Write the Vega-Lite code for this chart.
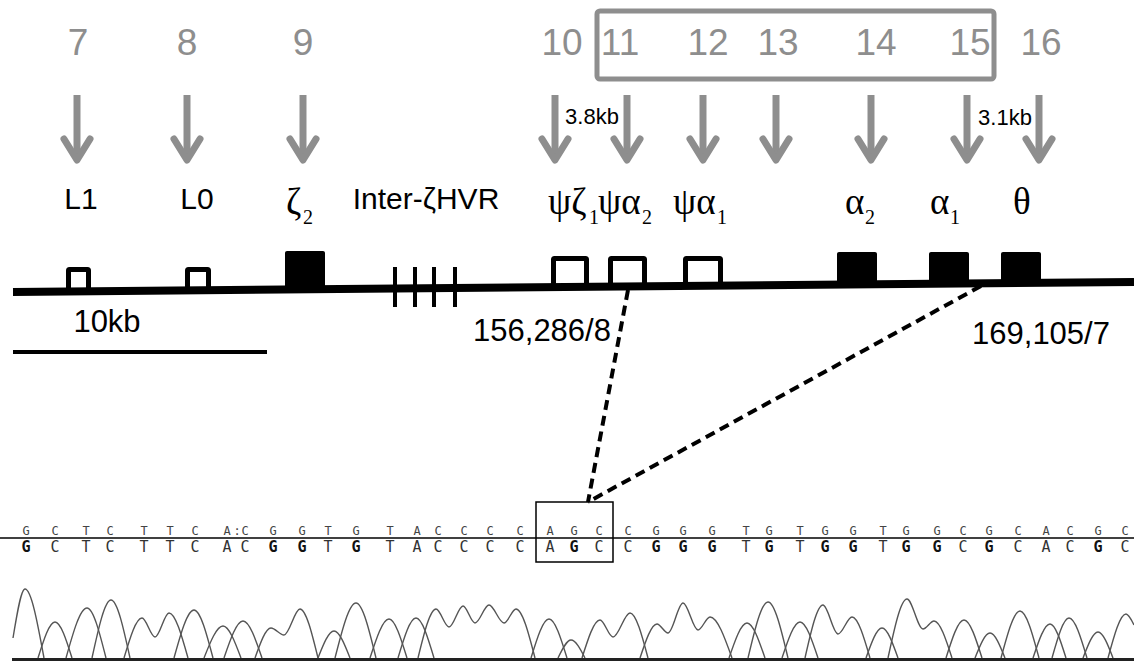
{
  "$schema": "https://vega.github.io/schema/vega-lite/v6.json",
  "width": 1134,
  "height": 661,
  "autosize": {"type": "none"},
  "padding": 0,
  "background": "white",
  "config": {"view": {"stroke": null}},
  "datasets": {
    "topbox": [{"x": 597, "x2": 994, "y": 11, "y2": 79}],
    "numbers": [
      {"x": 78, "y": 44, "t": "7"}, {"x": 187, "y": 44, "t": "8"}, {"x": 303, "y": 44, "t": "9"},
      {"x": 562, "y": 44, "t": "10"}, {"x": 620, "y": 44, "t": "11"}, {"x": 708, "y": 44, "t": "12"},
      {"x": 778, "y": 44, "t": "13"}, {"x": 876, "y": 44, "t": "14"}, {"x": 970, "y": 44, "t": "15"},
      {"x": 1041, "y": 44, "t": "16"}
    ],
    "shafts": [
      {"x": 77, "y": 95, "y2": 156}, {"x": 187, "y": 95, "y2": 156}, {"x": 303, "y": 95, "y2": 156},
      {"x": 555, "y": 95, "y2": 156}, {"x": 627, "y": 95, "y2": 156}, {"x": 703, "y": 95, "y2": 156},
      {"x": 776, "y": 95, "y2": 156}, {"x": 871, "y": 95, "y2": 156}, {"x": 967, "y": 95, "y2": 156},
      {"x": 1039, "y": 95, "y2": 156}
    ],
    "heads": [
      {"a": 7, "x": 64, "y": 139}, {"a": 7, "x": 77, "y": 160}, {"a": 7, "x": 90, "y": 139},
      {"a": 8, "x": 174, "y": 139}, {"a": 8, "x": 187, "y": 160}, {"a": 8, "x": 200, "y": 139},
      {"a": 9, "x": 290, "y": 139}, {"a": 9, "x": 303, "y": 160}, {"a": 9, "x": 316, "y": 139},
      {"a": 10, "x": 542, "y": 139}, {"a": 10, "x": 555, "y": 160}, {"a": 10, "x": 568, "y": 139},
      {"a": 11, "x": 614, "y": 139}, {"a": 11, "x": 627, "y": 160}, {"a": 11, "x": 640, "y": 139},
      {"a": 12, "x": 690, "y": 139}, {"a": 12, "x": 703, "y": 160}, {"a": 12, "x": 716, "y": 139},
      {"a": 13, "x": 763, "y": 139}, {"a": 13, "x": 776, "y": 160}, {"a": 13, "x": 789, "y": 139},
      {"a": 14, "x": 858, "y": 139}, {"a": 14, "x": 871, "y": 160}, {"a": 14, "x": 884, "y": 139},
      {"a": 15, "x": 954, "y": 139}, {"a": 15, "x": 967, "y": 160}, {"a": 15, "x": 980, "y": 139},
      {"a": 16, "x": 1026, "y": 139}, {"a": 16, "x": 1039, "y": 160}, {"a": 16, "x": 1052, "y": 139}
    ],
    "sanslabels": [
      {"x": 81, "y": 209, "t": "L1"}, {"x": 197, "y": 209, "t": "L0"}, {"x": 426, "y": 209, "t": "Inter-ζHVR"}
    ],
    "greek": [
      {"x": 286, "y": 214, "t": "ζ"}, {"x": 548, "y": 214, "t": "ψζ"}, {"x": 598, "y": 214, "t": "ψα"},
      {"x": 673, "y": 214, "t": "ψα"}, {"x": 845, "y": 214, "t": "α"}, {"x": 930, "y": 214, "t": "α"},
      {"x": 1013, "y": 214, "t": "θ"}
    ],
    "subs": [
      {"x": 303, "y": 224, "t": "2"}, {"x": 589, "y": 224, "t": "1"}, {"x": 642, "y": 224, "t": "2"},
      {"x": 717, "y": 224, "t": "1"}, {"x": 865, "y": 224, "t": "2"}, {"x": 950, "y": 224, "t": "1"}
    ],
    "openboxes": [
      {"x": 68.5, "x2": 88.5, "y": 269.5, "y2": 291},
      {"x": 187.5, "x2": 208.5, "y": 269.5, "y2": 290},
      {"x": 553.5, "x2": 586.5, "y": 258.5, "y2": 287},
      {"x": 610.5, "x2": 644.5, "y": 258.5, "y2": 287},
      {"x": 685.5, "x2": 720.5, "y": 258.5, "y2": 286}
    ],
    "filledboxes": [
      {"x": 285, "x2": 325, "y": 251, "y2": 290},
      {"x": 837, "x2": 877, "y": 252, "y2": 285},
      {"x": 929, "x2": 969, "y": 252, "y2": 284},
      {"x": 1001, "x2": 1041, "y": 252, "y2": 284}
    ],
    "geneline": [{"x": 13, "y": 292}, {"x": 1134, "y": 282}],
    "hvr": [
      {"x": 395, "y": 267, "y2": 307}, {"x": 415, "y": 267, "y2": 307},
      {"x": 434, "y": 267, "y2": 307}, {"x": 455, "y": 267, "y2": 307}
    ],
    "scalebar": [{"x": 13, "x2": 267, "y": 352}],
    "smalltext": [
      {"x": 592, "y": 117, "t": "3.8kb"}, {"x": 1005, "y": 118, "t": "3.1kb"}
    ],
    "bigtext": [
      {"x": 107, "y": 323, "t": "10kb"}, {"x": 542, "y": 332, "t": "156,286/8"}, {"x": 1041, "y": 335, "t": "169,105/7"}
    ],
    "dashes": [
      {"d": "a", "x": 628, "y": 290}, {"d": "a", "x": 588, "y": 502},
      {"d": "b", "x": 981, "y": 286}, {"d": "b", "x": 588, "y": 502}
    ],
    "seqline": [{"x": 0, "x2": 1134, "y": 538}],
    "agcbox": [{"x": 536, "x2": 613, "y": 502, "y2": 562}],
    "seqtop": [
      {"x": 26, "y": 531, "b": "G"}, {"x": 55, "y": 531, "b": "C"}, {"x": 86, "y": 531, "b": "T"}, {"x": 110, "y": 531, "b": "C"}, {"x": 144, "y": 531, "b": "T"},
      {"x": 170, "y": 531, "b": "T"}, {"x": 195, "y": 531, "b": "C"}, {"x": 227, "y": 531, "b": "A"}, {"x": 237, "y": 531, "b": ":"}, {"x": 245, "y": 531, "b": "C"}, {"x": 273, "y": 531, "b": "G"},
      {"x": 302, "y": 531, "b": "G"}, {"x": 328, "y": 531, "b": "T"}, {"x": 356, "y": 531, "b": "G"}, {"x": 390, "y": 531, "b": "T"}, {"x": 417, "y": 531, "b": "A"},
      {"x": 438, "y": 531, "b": "C"}, {"x": 464, "y": 531, "b": "C"}, {"x": 490, "y": 531, "b": "C"}, {"x": 520, "y": 531, "b": "C"}, {"x": 550, "y": 531, "b": "A"},
      {"x": 574, "y": 531, "b": "G"}, {"x": 599, "y": 531, "b": "C"}, {"x": 628, "y": 531, "b": "C"}, {"x": 656, "y": 531, "b": "G"}, {"x": 683, "y": 531, "b": "G"},
      {"x": 712, "y": 531, "b": "G"}, {"x": 746, "y": 531, "b": "T"}, {"x": 769, "y": 531, "b": "G"}, {"x": 800, "y": 531, "b": "T"}, {"x": 825, "y": 531, "b": "G"},
      {"x": 853, "y": 531, "b": "G"}, {"x": 883, "y": 531, "b": "T"}, {"x": 906, "y": 531, "b": "G"}, {"x": 937, "y": 531, "b": "G"}, {"x": 963, "y": 531, "b": "C"},
      {"x": 989, "y": 531, "b": "G"}, {"x": 1018, "y": 531, "b": "C"}, {"x": 1046, "y": 531, "b": "A"}, {"x": 1070, "y": 531, "b": "C"}, {"x": 1098, "y": 531, "b": "G"},
      {"x": 1125, "y": 531, "b": "C"}
    ],
    "seqbottom": [
      {"x": 26, "y": 547, "b": "G"}, {"x": 55, "y": 547, "b": "C"}, {"x": 86, "y": 547, "b": "T"}, {"x": 110, "y": 547, "b": "C"}, {"x": 144, "y": 547, "b": "T"},
      {"x": 170, "y": 547, "b": "T"}, {"x": 195, "y": 547, "b": "C"}, {"x": 227, "y": 547, "b": "A"}, {"x": 245, "y": 547, "b": "C"}, {"x": 273, "y": 547, "b": "G"},
      {"x": 302, "y": 547, "b": "G"}, {"x": 328, "y": 547, "b": "T"}, {"x": 356, "y": 547, "b": "G"}, {"x": 390, "y": 547, "b": "T"}, {"x": 417, "y": 547, "b": "A"},
      {"x": 438, "y": 547, "b": "C"}, {"x": 464, "y": 547, "b": "C"}, {"x": 490, "y": 547, "b": "C"}, {"x": 520, "y": 547, "b": "C"}, {"x": 550, "y": 547, "b": "A"},
      {"x": 574, "y": 547, "b": "G"}, {"x": 599, "y": 547, "b": "C"}, {"x": 628, "y": 547, "b": "C"}, {"x": 656, "y": 547, "b": "G"}, {"x": 683, "y": 547, "b": "G"},
      {"x": 712, "y": 547, "b": "G"}, {"x": 746, "y": 547, "b": "T"}, {"x": 769, "y": 547, "b": "G"}, {"x": 800, "y": 547, "b": "T"}, {"x": 825, "y": 547, "b": "G"},
      {"x": 853, "y": 547, "b": "G"}, {"x": 883, "y": 547, "b": "T"}, {"x": 906, "y": 547, "b": "G"}, {"x": 937, "y": 547, "b": "G"}, {"x": 963, "y": 547, "b": "C"},
      {"x": 989, "y": 547, "b": "G"}, {"x": 1018, "y": 547, "b": "C"}, {"x": 1046, "y": 547, "b": "A"}, {"x": 1070, "y": 547, "b": "C"}, {"x": 1098, "y": 547, "b": "G"},
      {"x": 1125, "y": 547, "b": "C"}
    ],
    "baseline": [{"x": 12, "x2": 1134, "y": 659.5}],
    "chrom": [
      {"p": 1, "x": 13, "y": 638}, {"p": 1, "x": 25, "y": 589}, {"p": 1, "x": 44, "y": 658},
      {"p": 2, "x": 38, "y": 658}, {"p": 2, "x": 55, "y": 622}, {"p": 2, "x": 72, "y": 658},
      {"p": 3, "x": 66, "y": 658}, {"p": 3, "x": 87, "y": 608}, {"p": 3, "x": 106, "y": 658},
      {"p": 4, "x": 92, "y": 658}, {"p": 4, "x": 111, "y": 600}, {"p": 4, "x": 130, "y": 658},
      {"p": 5, "x": 124, "y": 658}, {"p": 5, "x": 142, "y": 618}, {"p": 5, "x": 155, "y": 637}, {"p": 5, "x": 169, "y": 613}, {"p": 5, "x": 188, "y": 658},
      {"p": 6, "x": 174, "y": 658}, {"p": 6, "x": 194, "y": 610}, {"p": 6, "x": 213, "y": 658},
      {"p": 7, "x": 204, "y": 658}, {"p": 7, "x": 223, "y": 626}, {"p": 7, "x": 241, "y": 658},
      {"p": 8, "x": 224, "y": 658}, {"p": 8, "x": 243, "y": 621}, {"p": 8, "x": 262, "y": 658},
      {"p": 9, "x": 255, "y": 658}, {"p": 9, "x": 271, "y": 628}, {"p": 9, "x": 284, "y": 635}, {"p": 9, "x": 300, "y": 609}, {"p": 9, "x": 318, "y": 658},
      {"p": 10, "x": 318, "y": 658}, {"p": 10, "x": 334, "y": 631}, {"p": 10, "x": 350, "y": 658},
      {"p": 11, "x": 335, "y": 658}, {"p": 11, "x": 356, "y": 603}, {"p": 11, "x": 376, "y": 658},
      {"p": 12, "x": 370, "y": 658}, {"p": 12, "x": 389, "y": 619}, {"p": 12, "x": 407, "y": 658},
      {"p": 13, "x": 398, "y": 658}, {"p": 13, "x": 416, "y": 618}, {"p": 13, "x": 434, "y": 658},
      {"p": 14, "x": 418, "y": 658}, {"p": 14, "x": 436, "y": 609}, {"p": 14, "x": 449, "y": 627}, {"p": 14, "x": 463, "y": 606}, {"p": 14, "x": 475, "y": 623}, {"p": 14, "x": 489, "y": 605}, {"p": 14, "x": 504, "y": 623}, {"p": 14, "x": 516, "y": 609}, {"p": 14, "x": 535, "y": 658},
      {"p": 15, "x": 531, "y": 658}, {"p": 15, "x": 549, "y": 619}, {"p": 15, "x": 567, "y": 658},
      {"p": 16, "x": 558, "y": 658}, {"p": 16, "x": 571, "y": 640}, {"p": 16, "x": 585, "y": 658},
      {"p": 17, "x": 582, "y": 658}, {"p": 17, "x": 600, "y": 620}, {"p": 17, "x": 613, "y": 637}, {"p": 17, "x": 630, "y": 613}, {"p": 17, "x": 648, "y": 658},
      {"p": 18, "x": 640, "y": 658}, {"p": 18, "x": 657, "y": 624}, {"p": 18, "x": 668, "y": 633}, {"p": 18, "x": 683, "y": 603}, {"p": 18, "x": 698, "y": 630}, {"p": 18, "x": 710, "y": 617}, {"p": 18, "x": 732, "y": 658},
      {"p": 19, "x": 729, "y": 658}, {"p": 19, "x": 747, "y": 623}, {"p": 19, "x": 765, "y": 658},
      {"p": 20, "x": 748, "y": 658}, {"p": 20, "x": 768, "y": 602}, {"p": 20, "x": 788, "y": 658},
      {"p": 21, "x": 782, "y": 658}, {"p": 21, "x": 800, "y": 622}, {"p": 21, "x": 818, "y": 658},
      {"p": 22, "x": 805, "y": 658}, {"p": 22, "x": 823, "y": 605}, {"p": 22, "x": 838, "y": 634}, {"p": 22, "x": 852, "y": 617}, {"p": 22, "x": 870, "y": 658},
      {"p": 23, "x": 866, "y": 658}, {"p": 23, "x": 882, "y": 628}, {"p": 23, "x": 898, "y": 658},
      {"p": 24, "x": 888, "y": 658}, {"p": 24, "x": 907, "y": 599}, {"p": 24, "x": 923, "y": 629}, {"p": 24, "x": 934, "y": 621}, {"p": 24, "x": 952, "y": 658},
      {"p": 25, "x": 946, "y": 658}, {"p": 25, "x": 964, "y": 620}, {"p": 25, "x": 982, "y": 658},
      {"p": 26, "x": 975, "y": 658}, {"p": 26, "x": 990, "y": 633}, {"p": 26, "x": 1005, "y": 658},
      {"p": 27, "x": 1001, "y": 658}, {"p": 27, "x": 1020, "y": 611}, {"p": 27, "x": 1039, "y": 658},
      {"p": 28, "x": 1033, "y": 658}, {"p": 28, "x": 1050, "y": 624}, {"p": 28, "x": 1066, "y": 658},
      {"p": 29, "x": 1052, "y": 658}, {"p": 29, "x": 1069, "y": 618}, {"p": 29, "x": 1087, "y": 658},
      {"p": 30, "x": 1083, "y": 658}, {"p": 30, "x": 1098, "y": 632}, {"p": 30, "x": 1113, "y": 658},
      {"p": 31, "x": 1108, "y": 658}, {"p": 31, "x": 1126, "y": 614}, {"p": 31, "x": 1134, "y": 625}
    ]
  },
  "encoding": {
    "x": {"field": "x", "type": "quantitative", "scale": {"domain": [0, 1134], "nice": false, "zero": false}, "axis": null},
    "y": {"field": "y", "type": "quantitative", "scale": {"domain": [0, 661], "nice": false, "zero": false, "reverse": true}, "axis": null}
  },
  "layer": [
    {
      "data": {"name": "topbox"},
      "mark": {"type": "rect", "fill": "transparent", "stroke": "#8e8e8e", "strokeWidth": 5, "cornerRadius": 3},
      "encoding": {"x2": {"field": "x2"}, "y2": {"field": "y2"}}
    },
    {
      "data": {"name": "numbers"},
      "mark": {"type": "text", "font": "Liberation Sans", "fontSize": 37, "color": "#8e8e8e", "baseline": "middle", "align": "center"},
      "encoding": {"text": {"field": "t"}}
    },
    {
      "data": {"name": "shafts"},
      "mark": {"type": "rule", "color": "#8e8e8e", "strokeWidth": 7},
      "encoding": {"y2": {"field": "y2"}}
    },
    {
      "data": {"name": "heads"},
      "mark": {"type": "line", "color": "#8e8e8e", "strokeWidth": 7, "strokeCap": "round", "strokeJoin": "round"},
      "encoding": {"detail": {"field": "a", "type": "nominal"}}
    },
    {
      "data": {"name": "smalltext"},
      "mark": {"type": "text", "font": "Liberation Sans", "fontSize": 22, "color": "black", "baseline": "middle", "align": "center"},
      "encoding": {"text": {"field": "t"}}
    },
    {
      "data": {"name": "sanslabels"},
      "mark": {"type": "text", "font": "Liberation Sans", "fontSize": 30, "color": "black", "baseline": "alphabetic", "align": "center"},
      "encoding": {"text": {"field": "t"}}
    },
    {
      "data": {"name": "greek"},
      "mark": {"type": "text", "font": "Liberation Serif", "fontSize": 37, "color": "black", "baseline": "alphabetic", "align": "left"},
      "encoding": {"text": {"field": "t"}}
    },
    {
      "data": {"name": "subs"},
      "mark": {"type": "text", "font": "Liberation Serif", "fontSize": 20, "color": "black", "baseline": "alphabetic", "align": "left"},
      "encoding": {"text": {"field": "t"}}
    },
    {
      "data": {"name": "openboxes"},
      "mark": {"type": "rect", "fill": "white", "stroke": "black", "strokeWidth": 5, "cornerRadius": 1},
      "encoding": {"x2": {"field": "x2"}, "y2": {"field": "y2"}}
    },
    {
      "data": {"name": "filledboxes"},
      "mark": {"type": "rect", "fill": "black", "cornerRadius": 2},
      "encoding": {"x2": {"field": "x2"}, "y2": {"field": "y2"}}
    },
    {
      "data": {"name": "geneline"},
      "mark": {"type": "line", "color": "black", "strokeWidth": 8},
      "encoding": {}
    },
    {
      "data": {"name": "hvr"},
      "mark": {"type": "rule", "color": "black", "strokeWidth": 4},
      "encoding": {"y2": {"field": "y2"}}
    },
    {
      "data": {"name": "scalebar"},
      "mark": {"type": "rule", "color": "black", "strokeWidth": 4},
      "encoding": {"x2": {"field": "x2"}}
    },
    {
      "data": {"name": "bigtext"},
      "mark": {"type": "text", "font": "Liberation Sans", "fontSize": 31, "color": "black", "baseline": "middle", "align": "center"},
      "encoding": {"text": {"field": "t"}}
    },
    {
      "data": {"name": "dashes"},
      "mark": {"type": "line", "color": "black", "strokeWidth": 4, "strokeDash": [10, 6]},
      "encoding": {"detail": {"field": "d", "type": "nominal"}, "order": {"field": "y", "type": "quantitative"}}
    },
    {
      "data": {"name": "seqline"},
      "mark": {"type": "rule", "color": "black", "strokeWidth": 1.5},
      "encoding": {"x2": {"field": "x2"}}
    },
    {
      "data": {"name": "agcbox"},
      "mark": {"type": "rect", "fill": "transparent", "stroke": "black", "strokeWidth": 1.5},
      "encoding": {"x2": {"field": "x2"}, "y2": {"field": "y2"}}
    },
    {
      "data": {"name": "seqtop"},
      "mark": {"type": "text", "font": "DejaVu Sans Mono", "fontSize": 12, "color": "#444444", "baseline": "middle", "align": "center"},
      "encoding": {"text": {"field": "b"}}
    },
    {
      "data": {"name": "seqbottom"},
      "transform": [{"filter": "datum.b === 'G'"}],
      "mark": {"type": "text", "font": "DejaVu Sans Mono", "fontSize": 15, "fontWeight": "bold", "color": "#111111", "baseline": "middle", "align": "center"},
      "encoding": {"text": {"field": "b"}}
    },
    {
      "data": {"name": "seqbottom"},
      "transform": [{"filter": "datum.b !== 'G'"}],
      "mark": {"type": "text", "font": "DejaVu Sans Mono", "fontSize": 15, "color": "#333333", "baseline": "middle", "align": "center"},
      "encoding": {"text": {"field": "b"}}
    },
    {
      "data": {"name": "chrom"},
      "mark": {"type": "line", "color": "#555555", "strokeWidth": 1.4, "interpolate": "monotone"},
      "encoding": {"detail": {"field": "p", "type": "nominal"}}
    },
    {
      "data": {"name": "baseline"},
      "mark": {"type": "rule", "color": "#222222", "strokeWidth": 3},
      "encoding": {"x2": {"field": "x2"}}
    }
  ]
}
